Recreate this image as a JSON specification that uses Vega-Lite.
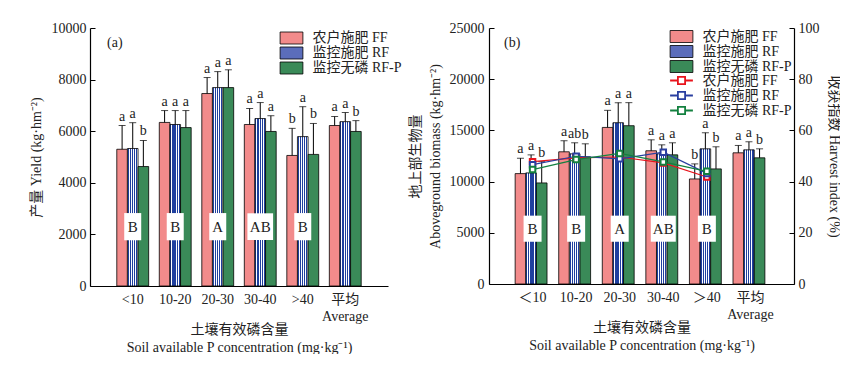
{
  "$schema": "https://vega.github.io/schema/vega-lite/v6.json",
  "padding": {"left": 29, "top": 21, "right": 0, "bottom": 0},
  "config": {
    "font": "Liberation Serif, Noto Sans CJK SC",
    "view": {"stroke": null},
    "axis": {"grid": false, "domainColor": "black", "tickColor": "black", "labelColor": "#222", "titleColor": "#222", "labelFont": "Liberation Serif, Noto Sans CJK SC", "titleFont": "Liberation Serif, Noto Sans CJK SC", "labelFontSize": 14, "titleFontSize": 14, "titleFontWeight": "normal", "domainWidth": 1.2},
    "legend": {"labelFont": "Liberation Serif, Noto Sans CJK SC", "labelFontSize": 14, "labelColor": "#222", "rowPadding": -1.5, "labelOffset": 14, "padding": 0},
    "text": {"font": "Liberation Serif, Noto Sans CJK SC", "fontSize": 14, "color": "#222"},
    "title": {"font": "Liberation Serif, Noto Sans CJK SC", "fontSize": 14, "fontWeight": "normal", "color": "#222"}
  },
  "hconcat": [
    {
      "width": 298,
      "height": 258,
      "title": {"text": "(a)", "anchor": "start", "frame": "group", "offset": 0, "dx": 17, "dy": 40, "baseline": "alphabetic"},
      "data": {"values": [
        {"g": "<10", "trt": "FF", "v": 5300, "e": 6220, "sig": "a"},
        {"g": "<10", "trt": "RF", "v": 5330, "e": 6330, "sig": "a"},
        {"g": "<10", "trt": "RF-P", "v": 4630, "e": 5640, "sig": "b"},
        {"g": "10-20", "trt": "FF", "v": 6340, "e": 6800, "sig": "a"},
        {"g": "10-20", "trt": "RF", "v": 6260, "e": 6800, "sig": "a"},
        {"g": "10-20", "trt": "RF-P", "v": 6140, "e": 6800, "sig": "a"},
        {"g": "20-30", "trt": "FF", "v": 7460, "e": 8080, "sig": "a"},
        {"g": "20-30", "trt": "RF", "v": 7690, "e": 8310, "sig": "a"},
        {"g": "20-30", "trt": "RF-P", "v": 7690, "e": 8380, "sig": "a"},
        {"g": "30-40", "trt": "FF", "v": 6260, "e": 6880, "sig": "a"},
        {"g": "30-40", "trt": "RF", "v": 6490, "e": 7110, "sig": "a"},
        {"g": "30-40", "trt": "RF-P", "v": 5990, "e": 6600, "sig": "a"},
        {"g": ">40", "trt": "FF", "v": 5060, "e": 6110, "sig": "b"},
        {"g": ">40", "trt": "RF", "v": 5790, "e": 6950, "sig": "a"},
        {"g": ">40", "trt": "RF-P", "v": 5100, "e": 6300, "sig": "b"},
        {"g": "平均 Average", "trt": "FF", "v": 6220, "e": 6570, "sig": "a"},
        {"g": "平均 Average", "trt": "RF", "v": 6370, "e": 6720, "sig": "a"},
        {"g": "平均 Average", "trt": "RF-P", "v": 5990, "e": 6410, "sig": "b"}
      ]},
      "encoding": {
        "x": {"field": "g", "type": "nominal", "sort": null,
          "scale": {"domain": ["<10", "10-20", "20-30", "30-40", ">40", "平均 Average"], "paddingInner": 0.25, "paddingOuter": 0.63},
          "axis": {"ticks": false, "labelAngle": 0, "labelPadding": 6, "labelLineHeight": 17, "titleLineHeight": 18, "titlePadding": -1,
            "labelExpr": "datum.value == '平均 Average' ? ['平均', 'Average'] : datum.label",
            "title": ["土壤有效磷含量", "Soil available P concentration (mg·kg⁻¹)"]}}
      },
      "layer": [
        {
          "mark": {"type": "bar", "stroke": "black", "strokeWidth": 0.8},
          "encoding": {
            "xOffset": {"field": "trt", "type": "nominal", "scale": {"domain": ["FF", "RF", "RF-P"], "paddingInner": 0, "paddingOuter": 0}},
            "y": {"field": "v", "type": "quantitative", "scale": {"domain": [0, 10000], "nice": false},
              "axis": {"values": [0, 2000, 4000, 6000, 8000, 10000], "format": "d", "tickSize": -5, "labelPadding": 9, "titlePadding": 8, "title": "产量 Yield (kg·hm⁻²)"}},
            "fill": {
              "condition": {"test": "datum.trt == 'RF'", "value": {"gradient": "linear", "x1": 0, "y1": 0, "x2": 1, "y2": 0, "stops": [
                {"offset": 0, "color": "#ffffff"}, {"offset": 0.03, "color": "#ffffff"}, {"offset": 0.03, "color": "#1f3f9f"}, {"offset": 0.14, "color": "#1f3f9f"},
                {"offset": 0.14, "color": "#ffffff"}, {"offset": 0.23, "color": "#ffffff"}, {"offset": 0.23, "color": "#1f3f9f"}, {"offset": 0.34, "color": "#1f3f9f"},
                {"offset": 0.34, "color": "#ffffff"}, {"offset": 0.43, "color": "#ffffff"}, {"offset": 0.43, "color": "#1f3f9f"}, {"offset": 0.54, "color": "#1f3f9f"},
                {"offset": 0.54, "color": "#ffffff"}, {"offset": 0.63, "color": "#ffffff"}, {"offset": 0.63, "color": "#1f3f9f"}, {"offset": 0.74, "color": "#1f3f9f"},
                {"offset": 0.74, "color": "#ffffff"}, {"offset": 0.83, "color": "#ffffff"}, {"offset": 0.83, "color": "#1f3f9f"}, {"offset": 0.94, "color": "#1f3f9f"},
                {"offset": 0.94, "color": "#ffffff"}, {"offset": 1, "color": "#ffffff"}]}},
              "field": "trt", "type": "nominal",
              "scale": {"domain": ["FF", "RF", "RF-P"], "range": ["#f28b8b", "#5b6dbb", "#3a8a58"]},
              "legend": {"orient": "none", "legendX": 194.5, "legendY": 3, "title": null,
                "labelExpr": "datum.value == 'FF' ? '农户施肥 FF' : datum.value == 'RF' ? '监控施肥 RF' : '监控无磷 RF-P'",
                "symbolType": "M-1.9,-1H1.9V1H-1.9Z", "symbolSize": 144, "symbolStrokeColor": "black", "symbolStrokeWidth": 0.8}}
          }
        },
        {
          "mark": {"type": "rule", "color": "black", "strokeWidth": 1},
          "encoding": {
            "xOffset": {"field": "trt", "type": "nominal"},
            "y": {"field": "v", "type": "quantitative"},
            "y2": {"field": "e"}
          }
        },
        {
          "mark": {"type": "tick", "color": "black", "size": 7, "thickness": 1, "orient": "horizontal"},
          "encoding": {
            "xOffset": {"field": "trt", "type": "nominal"},
            "y": {"field": "e", "type": "quantitative"}
          }
        },
        {
          "mark": {"type": "text", "dy": -5, "baseline": "alphabetic", "fontSize": 14},
          "encoding": {
            "xOffset": {"field": "trt", "type": "nominal"},
            "y": {"field": "e", "type": "quantitative"},
            "text": {"field": "sig"}
          }
        },
        {
          "data": {"values": [
            {"g": "<10", "G": "B"}, {"g": "10-20", "G": "B"}, {"g": "20-30", "G": "A"}, {"g": "30-40", "G": "AB"}, {"g": ">40", "G": "B"}
          ]},
          "mark": {"type": "point", "filled": true, "fill": "white", "stroke": null, "opacity": 1},
          "encoding": {
            "y": {"datum": 2300, "type": "quantitative"},
            "shape": {"condition": {"test": "datum.G == 'AB'", "value": "M-1,-1.04H1V1.04H-1Z"}, "value": "M-1,-1.6H1V1.6H-1Z"},
            "size": {"condition": {"test": "datum.G == 'AB'", "value": 660}, "value": 289}
          }
        },
        {
          "data": {"values": [
            {"g": "<10", "G": "B"}, {"g": "10-20", "G": "B"}, {"g": "20-30", "G": "A"}, {"g": "30-40", "G": "AB"}, {"g": ">40", "G": "B"}
          ]},
          "mark": {"type": "text", "fontSize": 15, "baseline": "middle"},
          "encoding": {
            "y": {"datum": 2300, "type": "quantitative"},
            "text": {"field": "G"}
          }
        }
      ]
    },
    {
      "width": 305,
      "height": 256,
      "title": {"text": "(b)", "anchor": "start", "frame": "group", "offset": 0, "dx": 15, "dy": 40, "baseline": "alphabetic"},
      "encoding": {
        "x": {"field": "g", "type": "nominal", "sort": null,
          "scale": {"domain": ["＜10", "10-20", "20-30", "30-40", "＞40", "平均 Average"], "paddingInner": 0.2, "paddingOuter": 0.6},
          "axis": {"ticks": false, "labelAngle": 0, "labelPadding": 6, "labelLineHeight": 17, "titleLineHeight": 18, "titlePadding": -1,
            "labelExpr": "datum.value == '平均 Average' ? ['平均', 'Average'] : datum.label",
            "title": ["土壤有效磷含量", "Soil available P concentration (mg·kg⁻¹)"]}}
      },
      "layer": [
        {
          "data": {"values": [
            {"g": "＜10", "trt": "FF", "v": 10780, "e": 12290, "sig": "a"},
            {"g": "＜10", "trt": "RF", "v": 10850, "e": 12610, "sig": "a"},
            {"g": "＜10", "trt": "RF-P", "v": 9870, "e": 11950, "sig": "b"},
            {"g": "10-20", "trt": "FF", "v": 12910, "e": 13990, "sig": "a"},
            {"g": "10-20", "trt": "RF", "v": 12710, "e": 13790, "sig": "ab"},
            {"g": "10-20", "trt": "RF-P", "v": 12420, "e": 13690, "sig": "b"},
            {"g": "20-30", "trt": "FF", "v": 15290, "e": 16960, "sig": "a"},
            {"g": "20-30", "trt": "RF", "v": 15750, "e": 17710, "sig": "a"},
            {"g": "20-30", "trt": "RF-P", "v": 15460, "e": 17710, "sig": "a"},
            {"g": "30-40", "trt": "FF", "v": 13010, "e": 14080, "sig": "a"},
            {"g": "30-40", "trt": "RF", "v": 12710, "e": 13590, "sig": "a"},
            {"g": "30-40", "trt": "RF-P", "v": 12610, "e": 13790, "sig": "a"},
            {"g": "＞40", "trt": "FF", "v": 10260, "e": 11730, "sig": "b"},
            {"g": "＞40", "trt": "RF", "v": 13200, "e": 14770, "sig": "a"},
            {"g": "＞40", "trt": "RF-P", "v": 11240, "e": 13400, "sig": "b"},
            {"g": "平均 Average", "trt": "FF", "v": 12810, "e": 13530, "sig": "a"},
            {"g": "平均 Average", "trt": "RF", "v": 13100, "e": 13890, "sig": "a"},
            {"g": "平均 Average", "trt": "RF-P", "v": 12320, "e": 13200, "sig": "b"}
          ]},
          "layer": [
            {
              "mark": {"type": "bar", "stroke": "black", "strokeWidth": 0.8},
              "encoding": {
                "xOffset": {"field": "trt", "type": "nominal", "scale": {"domain": ["FF", "RF", "RF-P"], "paddingInner": 0, "paddingOuter": 0}},
                "y": {"field": "v", "type": "quantitative", "scale": {"domain": [0, 25000], "nice": false},
                  "axis": {"values": [0, 5000, 10000, 15000, 20000, 25000], "format": "d", "tickSize": -5, "labelPadding": 10, "titlePadding": 7, "titleLineHeight": 20,
                    "title": ["地上部生物量", "Aboveground biomass (kg·hm⁻²)"]}},
                "fill": {
                  "condition": {"test": "datum.trt == 'RF'", "value": {"gradient": "linear", "x1": 0, "y1": 0, "x2": 1, "y2": 0, "stops": [
                    {"offset": 0, "color": "#ffffff"}, {"offset": 0.03, "color": "#ffffff"}, {"offset": 0.03, "color": "#1f3f9f"}, {"offset": 0.14, "color": "#1f3f9f"},
                    {"offset": 0.14, "color": "#ffffff"}, {"offset": 0.23, "color": "#ffffff"}, {"offset": 0.23, "color": "#1f3f9f"}, {"offset": 0.34, "color": "#1f3f9f"},
                    {"offset": 0.34, "color": "#ffffff"}, {"offset": 0.43, "color": "#ffffff"}, {"offset": 0.43, "color": "#1f3f9f"}, {"offset": 0.54, "color": "#1f3f9f"},
                    {"offset": 0.54, "color": "#ffffff"}, {"offset": 0.63, "color": "#ffffff"}, {"offset": 0.63, "color": "#1f3f9f"}, {"offset": 0.74, "color": "#1f3f9f"},
                    {"offset": 0.74, "color": "#ffffff"}, {"offset": 0.83, "color": "#ffffff"}, {"offset": 0.83, "color": "#1f3f9f"}, {"offset": 0.94, "color": "#1f3f9f"},
                    {"offset": 0.94, "color": "#ffffff"}, {"offset": 1, "color": "#ffffff"}]}},
                  "field": "trt", "type": "nominal",
                  "scale": {"domain": ["FF", "RF", "RF-P"], "range": ["#f28b8b", "#5b6dbb", "#3a8a58"]},
                  "legend": {"orient": "none", "legendX": 185.5, "legendY": 1.5, "title": null,
                    "labelExpr": "datum.value == 'FF' ? '农户施肥 FF' : datum.value == 'RF' ? '监控施肥 RF' : '监控无磷 RF-P'",
                    "symbolType": "M-1.9,-1H1.9V1H-1.9Z", "symbolSize": 144, "symbolStrokeColor": "black", "symbolStrokeWidth": 0.8}}
              }
            },
            {
              "mark": {"type": "rule", "color": "black", "strokeWidth": 1},
              "encoding": {
                "xOffset": {"field": "trt", "type": "nominal"},
                "y": {"field": "v", "type": "quantitative"},
                "y2": {"field": "e"}
              }
            },
            {
              "mark": {"type": "tick", "color": "black", "size": 7, "thickness": 1, "orient": "horizontal"},
              "encoding": {
                "xOffset": {"field": "trt", "type": "nominal"},
                "y": {"field": "e", "type": "quantitative"}
              }
            },
            {
              "mark": {"type": "text", "dy": -5, "baseline": "alphabetic", "fontSize": 14},
              "encoding": {
                "xOffset": {"field": "trt", "type": "nominal"},
                "y": {"field": "e", "type": "quantitative"},
                "text": {"field": "sig"}
              }
            },
            {
              "data": {"values": [
                {"g": "＜10", "G": "B"}, {"g": "10-20", "G": "B"}, {"g": "20-30", "G": "A"}, {"g": "30-40", "G": "AB"}, {"g": "＞40", "G": "B"}
              ]},
              "mark": {"type": "point", "filled": true, "fill": "white", "stroke": null, "opacity": 1},
              "encoding": {
                "y": {"datum": 5400, "type": "quantitative"},
                "shape": {"condition": {"test": "datum.G == 'AB'", "value": "M-1,-1.04H1V1.04H-1Z"}, "value": "M-1,-1.45H1V1.45H-1Z"},
                "size": {"condition": {"test": "datum.G == 'AB'", "value": 625}, "value": 324}
              }
            },
            {
              "data": {"values": [
                {"g": "＜10", "G": "B"}, {"g": "10-20", "G": "B"}, {"g": "20-30", "G": "A"}, {"g": "30-40", "G": "AB"}, {"g": "＞40", "G": "B"}
              ]},
              "mark": {"type": "text", "fontSize": 15, "baseline": "middle"},
              "encoding": {
                "y": {"datum": 5400, "type": "quantitative"},
                "text": {"field": "G"}
              }
            }
          ]
        },
        {
          "data": {"values": [
            {"g": "＜10", "s": "HI-FF", "hi": 47.8}, {"g": "10-20", "s": "HI-FF", "hi": 49.3}, {"g": "20-30", "s": "HI-FF", "hi": 49.6}, {"g": "30-40", "s": "HI-FF", "hi": 47.3}, {"g": "＞40", "s": "HI-FF", "hi": 41.8},
            {"g": "＜10", "s": "HI-RF", "hi": 46.6}, {"g": "10-20", "s": "HI-RF", "hi": 49.9}, {"g": "20-30", "s": "HI-RF", "hi": 48.9}, {"g": "30-40", "s": "HI-RF", "hi": 51.5}, {"g": "＞40", "s": "HI-RF", "hi": 43.2},
            {"g": "＜10", "s": "HI-RF-P", "hi": 44.7}, {"g": "10-20", "s": "HI-RF-P", "hi": 48.6}, {"g": "20-30", "s": "HI-RF-P", "hi": 51.0}, {"g": "30-40", "s": "HI-RF-P", "hi": 47.7}, {"g": "＞40", "s": "HI-RF-P", "hi": 44.0}
          ]},
          "encoding": {
            "y": {"field": "hi", "type": "quantitative", "scale": {"domain": [0, 100], "nice": false},
              "axis": {"orient": "right", "values": [0, 20, 40, 60, 80, 100], "tickSize": -5, "labelPadding": 9, "titlePadding": 7, "title": "收获指数 Harvest index (%)"}},
            "stroke": {"field": "s", "type": "nominal",
              "scale": {"domain": ["HI-FF", "HI-RF", "HI-RF-P"], "range": ["#e8141c", "#2a3fa0", "#13803f"]},
              "legend": {"orient": "none", "legendX": 185.5, "legendY": 45.5, "title": null,
                "labelExpr": "datum.value == 'HI-FF' ? '农户施肥 FF' : datum.value == 'HI-RF' ? '监控施肥 RF' : '监控无磷 RF-P'",
                "symbolType": "M-1.9,0H-0.6M0.6,0H1.9M-0.6,-0.6H0.6V0.6H-0.6Z", "symbolSize": 144, "symbolFillColor": "white", "symbolStrokeWidth": 1.8}}
          },
          "layer": [
            {"mark": {"type": "line", "strokeWidth": 1.2}},
            {"mark": {"type": "point", "shape": "square", "filled": true, "fill": "white", "size": 30, "strokeWidth": 2, "opacity": 1}}
          ]
        }
      ],
      "resolve": {"scale": {"y": "independent"}}
    }
  ],
  "spacing": 101,
  "bounds": "flush",
  "resolve": {"scale": {"fill": "independent", "stroke": "independent", "y": "independent", "x": "independent"}, "legend": {"fill": "independent", "stroke": "independent"}}
}
